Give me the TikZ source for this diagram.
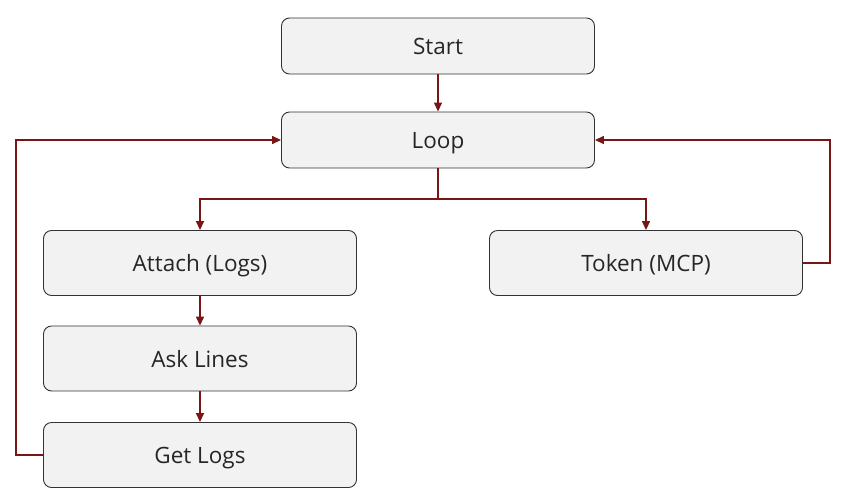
\documentclass[tikz,border=0pt]{standalone}
\usepackage{fontspec}
\setmainfont{Open Sans}
\usetikzlibrary{arrows.meta}
\definecolor{boxfill}{HTML}{F2F2F2}
\definecolor{boxline}{HTML}{333333}
\definecolor{conn}{HTML}{7A1515}
\begin{document}
\begin{tikzpicture}[x=1pt,y=-1pt,
  box/.style={draw=boxline,line width=0.9pt,fill=boxfill,rounded corners=8pt,
    minimum width=313pt,minimum height=#1,inner sep=0pt,text height=17pt,text depth=0pt,
    font=\fontsize{22.5}{24}\selectfont,text=black!85},
  box/.default=56pt,
  conn/.style={draw=conn,line width=1.4pt,-{Triangle[length=9pt,width=8pt]}},
  plain/.style={draw=conn,line width=1.4pt}]
\useasboundingbox (0,0) rectangle (845,496);
\node[box=56pt] (start) at (438,46) {Start};
\node[box=56pt] (loop) at (438,140) {Loop};
\node[box=65pt] (attach) at (200,263) {Attach (Logs)};
\node[box=65pt] (token) at (646,263) {Token (MCP)};
\node[box=65pt] (ask) at (200,358.5) {Ask Lines};
\node[box=65pt] (get) at (200,455) {Get Logs};
\coordinate (split) at (438,199);
\draw[conn] (start) -- (loop);
\draw[plain] (loop.south) -- (split);
\draw[conn] (split) -| (attach.north);
\draw[conn] (split) -| (token.north);
\draw[conn] (attach) -- (ask);
\draw[conn] (ask) -- (get);
\draw[conn] (get.west) -- (16,455) |- (loop.west);
\draw[conn] (token.east) -- (830,263) |- (loop.east);
\end{tikzpicture}
\end{document}
